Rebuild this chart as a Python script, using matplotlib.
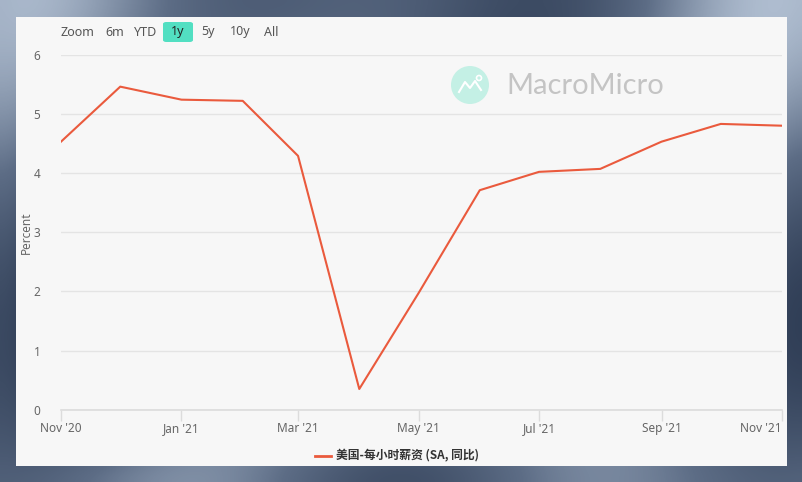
import numpy as np
import pandas as pd
import matplotlib
matplotlib.use("Agg")
import matplotlib.pyplot as plt
import matplotlib.dates as mdates
from matplotlib.patches import Rectangle, FancyBboxPatch, Circle
from matplotlib.lines import Line2D
from matplotlib.colors import LinearSegmentedColormap

plt.rcParams['font.family'] = ['Noto Sans', 'Noto Sans CJK SC', 'DejaVu Sans']

# data: US average hourly earnings, YoY %
months = pd.date_range("2020-11-01", "2021-11-01", freq="MS")
wages = [4.53, 5.46, 5.24, 5.22, 4.29, 0.35, 1.97, 3.71, 4.02, 4.07, 4.53, 4.83, 4.80]
tick_months = pd.date_range("2020-11-01", "2021-11-01", freq="2MS")
series_name = "美国-每小时薪资 (SA, 同比)"
buttons = ["Zoom", "6m", "YTD", "1y", "5y", "10y", "All"]

W, H = 803, 482
fig = plt.figure(figsize=(W / 100, H / 100), dpi=100)


def px(x, y):
    # pixel position (from top-left) -> figure fraction
    return x / W, 1 - y / H


# background (soft cloudy blue-grey)
bg = fig.add_axes([0, 0, 1, 1], zorder=-10)
gy, gx = np.mgrid[0:1:60j, 0:1:100j]
shade = 0.5 + 0.25 * np.sin(gx * 7 + 1) * np.cos(gy * 5) + 0.15 * np.cos(gx * 13 + gy * 3)
sky = LinearSegmentedColormap.from_list("sky", ["#2c3a52", "#5d6d86", "#b9c7d9"])
bg.imshow(shade, cmap=sky, vmin=0.1, vmax=0.95, aspect="auto", interpolation="bicubic")
bg.axis("off")

# white panel
x0, y0 = px(16, 466)
fig.add_artist(Rectangle((x0, y0), (787 - 16) / W, (466 - 17) / H,
                         transform=fig.transFigure, facecolor="#f7f7f7",
                         edgecolor="none", zorder=-5))

# plot area
left, bottom = px(61, 409.7)
ax = fig.add_axes([left, bottom, (782 - 61) / W, (409.7 - 54.7) / H])
ax.set_facecolor("#f7f7f7")
ax.plot(months, wages, color="#ea5a3d", linewidth=1.5, zorder=3)

ax.set_xlim(months[0], months[-1])
ax.set_ylim(0, 6)
ax.set_yticks(range(0, 7))
ax.set_xticks(tick_months)
ax.xaxis.set_major_formatter(mdates.DateFormatter("%b '%y"))
ax.grid(axis="y", color="#e4e4e4", linewidth=1)
ax.set_axisbelow(True)
for s in ["top", "right", "left"]:
    ax.spines[s].set_visible(False)
ax.spines["bottom"].set_color("#dcdcdc")
ax.spines["bottom"].set_linewidth(1.2)
ax.tick_params(axis="x", colors="#dcdcdc", length=8, width=1, labelcolor="#666666",
               labelsize=8.5, pad=1)
ax.tick_params(axis="y", length=0, labelcolor="#666666", labelsize=8.5, pad=15)
ax.get_xticklabels()[-1].set_horizontalalignment("right")
ax.set_ylabel("Percent", color="#666666", fontsize=8.5)
ax.yaxis.set_label_coords((33 - 61) / 721, 0.5)

# range selector
btn_x = [77, 115, 146, 178, 208, 240, 271]
bx, by = px(163, 42)
fig.add_artist(FancyBboxPatch((bx, by), 30 / W, 20 / H, transform=fig.transFigure,
                              boxstyle="round,pad=0,rounding_size=0.004",
                              facecolor="#52dfc2", edgecolor="none"))
for label, xx in zip(buttons, btn_x):
    tx, ty = px(xx, 32)
    fig.text(tx, ty, label, ha="center", va="center", fontsize=9,
             color="#222222" if label == "1y" else "#555555",
             fontweight="bold" if label == "1y" else "normal")

# watermark
fig.add_artist(Circle((4.70, (H - 85) / 100), 0.19, transform=fig.dpi_scale_trans,
                      facecolor="#c4f0e5", edgecolor="none"))
zx = np.array([-11, -5, 0, 5, 11])
zy = np.array([-7, 3, -3, 4, -5])
fig.add_artist(Line2D((470 + zx) / W, 1 - (85 - zy) / H, color="white", linewidth=1.5))
fig.add_artist(Circle((4.79, (H - 78) / 100), 0.025, transform=fig.dpi_scale_trans,
                      facecolor="none", edgecolor="white", linewidth=1.2))
tx, ty = px(506, 86)
fig.text(tx, ty, "MacroMicro", ha="left", va="center", fontsize=21,
         color="#c4c4c4", family="Lato")

# legend
l1, ly = px(315, 456)
l2, _ = px(331, 456)
fig.add_artist(Line2D([l1, l2], [ly, ly], color="#ea5a3d", linewidth=2))
tx, ty = px(336, 456)
fig.text(tx, ty, series_name, ha="left", va="center", fontsize=8.5, color="#333333",
         fontweight="bold", family=["Noto Sans CJK SC", "DejaVu Sans"])

fig.savefig("out.png", dpi=100)
